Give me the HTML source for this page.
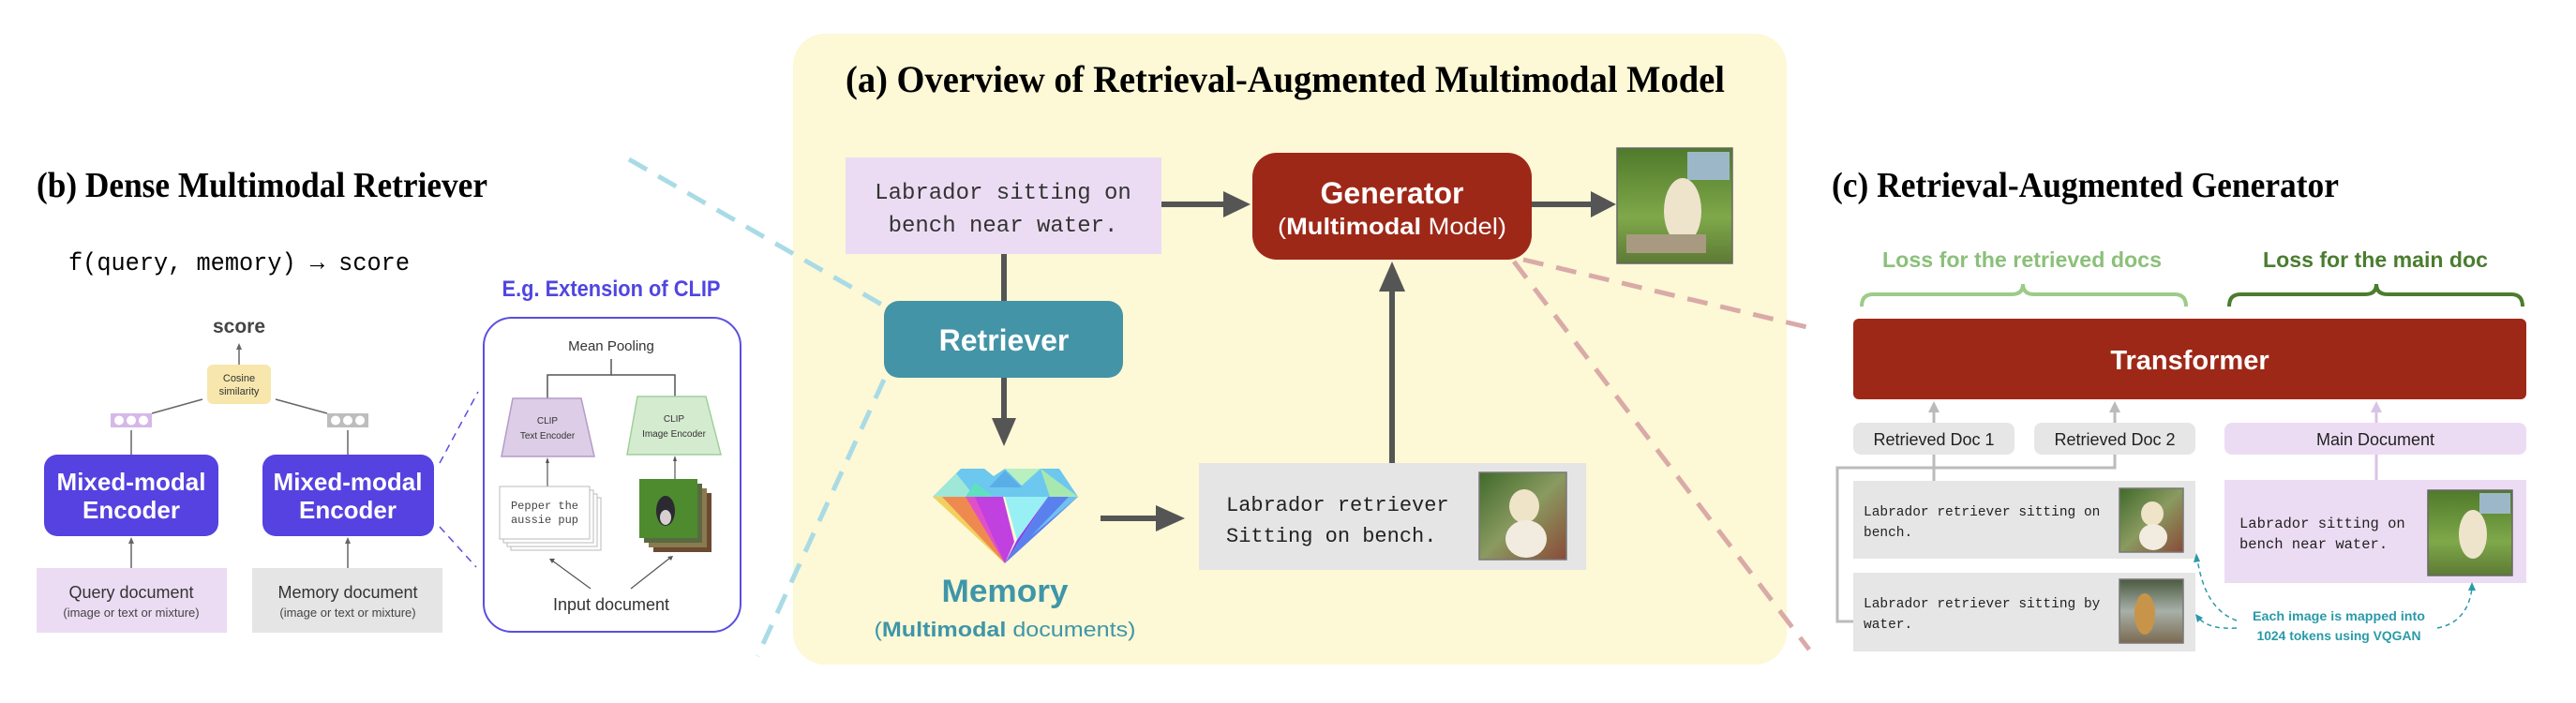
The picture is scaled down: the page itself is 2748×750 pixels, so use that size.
<!DOCTYPE html>
<html><head><meta charset="utf-8"><style>
html,body{margin:0;padding:0;background:#fff;}
svg{display:block;}
.mono{font-family:"Liberation Mono","DejaVu Sans Mono",monospace;}
.serif{font-family:"Liberation Serif",serif;font-weight:bold;}
.sans{font-family:"Liberation Sans","DejaVu Sans",sans-serif;}
</style></head><body>
<svg width="2748" height="750" viewBox="0 0 2748 750" xmlns="http://www.w3.org/2000/svg">
<defs>
<linearGradient id="g1" x1="0" y1="0" x2="0" y2="1"><stop offset="0" stop-color="#4f7a2a"/><stop offset="0.6" stop-color="#7fa84a"/><stop offset="1" stop-color="#5d7a35"/></linearGradient>
<linearGradient id="g2" x1="0" y1="0" x2="1" y2="1"><stop offset="0" stop-color="#3f6a2a"/><stop offset="0.5" stop-color="#8a9a60"/><stop offset="1" stop-color="#8a4a38"/></linearGradient>
<linearGradient id="g3" x1="0" y1="0" x2="0" y2="1"><stop offset="0" stop-color="#4a5a40"/><stop offset="0.5" stop-color="#a8b0a8"/><stop offset="1" stop-color="#7a6a50"/></linearGradient>
</defs>

<!-- Panel (a) background -->
<rect x="846" y="36" width="1060" height="673" rx="34" fill="#fdf8d5"/>

<!-- dashed connectors -->
<line x1="671" y1="170" x2="946" y2="328" stroke="#a9dbe6" stroke-width="5" stroke-dasharray="22,14"/>
<line x1="943" y1="405" x2="808" y2="700" stroke="#a9dbe6" stroke-width="5" stroke-dasharray="22,14"/>
<line x1="1625" y1="277" x2="1932" y2="350" stroke="#d9aaa8" stroke-width="5" stroke-dasharray="22,14"/>
<line x1="1615" y1="279" x2="1930" y2="693" stroke="#d9aaa8" stroke-width="5" stroke-dasharray="22,14"/>

<!-- ===== Panel (b) ===== -->
<text x="39" y="210" class="serif" font-size="38" textLength="481" lengthAdjust="spacingAndGlyphs">(b) Dense Multimodal Retriever</text>
<text x="73" y="288" class="mono" font-size="27" textLength="364" lengthAdjust="spacingAndGlyphs">f(query, memory) → score</text>
<text x="652" y="316" class="sans" font-size="24" font-weight="bold" fill="#5046e0" text-anchor="middle" textLength="233" lengthAdjust="spacingAndGlyphs">E.g. Extension of CLIP</text>

<text x="255" y="355" class="sans" font-size="21" font-weight="bold" fill="#444" text-anchor="middle">score</text>
<line x1="255" y1="389" x2="255" y2="372" stroke="#666" stroke-width="1.5"/>
<polygon points="255,366 252,373 258,373" fill="#666"/>
<rect x="221" y="389" width="68" height="42" rx="6" fill="#f7e7ad"/>
<text x="255" y="407" class="sans" font-size="11" fill="#333" text-anchor="middle">Cosine</text>
<text x="255" y="421" class="sans" font-size="11" fill="#333" text-anchor="middle">similarity</text>

<rect x="118" y="441" width="44" height="15" fill="#d5b8e8"/>
<circle cx="127" cy="448.5" r="5" fill="#fff"/><circle cx="140" cy="448.5" r="5" fill="#fff"/><circle cx="153" cy="448.5" r="5" fill="#fff"/>
<rect x="349" y="441" width="44" height="15" fill="#bdbdbd"/>
<circle cx="358" cy="448.5" r="5" fill="#fff"/><circle cx="371" cy="448.5" r="5" fill="#fff"/><circle cx="384" cy="448.5" r="5" fill="#fff"/>
<line x1="162" y1="441" x2="216" y2="426" stroke="#666" stroke-width="1.5"/>
<line x1="349" y1="441" x2="294" y2="426" stroke="#666" stroke-width="1.5"/>
<line x1="140" y1="485" x2="140" y2="459" stroke="#666" stroke-width="1.5"/>
<line x1="371" y1="485" x2="371" y2="459" stroke="#666" stroke-width="1.5"/>

<rect x="47" y="485" width="186" height="87" rx="14" fill="#5542e0"/>
<text x="140" y="523" class="sans" font-size="26" font-weight="bold" fill="#fff" text-anchor="middle">Mixed-modal</text>
<text x="140" y="553" class="sans" font-size="26" font-weight="bold" fill="#fff" text-anchor="middle">Encoder</text>
<rect x="280" y="485" width="183" height="87" rx="14" fill="#5542e0"/>
<text x="371" y="523" class="sans" font-size="26" font-weight="bold" fill="#fff" text-anchor="middle">Mixed-modal</text>
<text x="371" y="553" class="sans" font-size="26" font-weight="bold" fill="#fff" text-anchor="middle">Encoder</text>

<line x1="140" y1="606" x2="140" y2="578" stroke="#666" stroke-width="1.5"/>
<polygon points="140,573 137,580 143,580" fill="#666"/>
<line x1="371" y1="606" x2="371" y2="578" stroke="#666" stroke-width="1.5"/>
<polygon points="371,573 368,580 374,580" fill="#666"/>

<rect x="39" y="606" width="203" height="69" fill="#ecdcf3"/>
<text x="140" y="638" class="sans" font-size="18" fill="#333" text-anchor="middle">Query document</text>
<text x="140" y="658" class="sans" font-size="13" fill="#444" text-anchor="middle">(image or text or mixture)</text>
<rect x="269" y="606" width="203" height="69" fill="#e5e5e5"/>
<text x="371" y="638" class="sans" font-size="18" fill="#333" text-anchor="middle">Memory document</text>
<text x="371" y="658" class="sans" font-size="13" fill="#444" text-anchor="middle">(image or text or mixture)</text>

<line x1="469" y1="494" x2="510" y2="418" stroke="#5a4fe0" stroke-width="1.5" stroke-dasharray="8,6"/>
<line x1="469" y1="562" x2="508" y2="605" stroke="#5a4fe0" stroke-width="1.5" stroke-dasharray="8,6"/>

<rect x="516" y="339" width="274" height="335" rx="30" fill="#fff" stroke="#5a4fe0" stroke-width="2"/>
<text x="652" y="374" class="sans" font-size="15" fill="#333" text-anchor="middle">Mean Pooling</text>
<polyline points="652,383 652,400 584,400 584,425" fill="none" stroke="#555" stroke-width="1.5"/>
<polyline points="652,400 720,400 720,423" fill="none" stroke="#555" stroke-width="1.5"/>
<polygon points="547,425 620,425 634,487 535,487" fill="#ddcde6" stroke="#b49cc8" stroke-width="1.5"/>
<text x="584" y="452" class="sans" font-size="10" fill="#333" text-anchor="middle">CLIP</text>
<text x="584" y="468" class="sans" font-size="10" fill="#333" text-anchor="middle">Text Encoder</text>
<polygon points="680,423 753,423 769,485 669,485" fill="#d5ebd0" stroke="#9fd09a" stroke-width="1.5"/>
<text x="719" y="450" class="sans" font-size="10" fill="#333" text-anchor="middle">CLIP</text>
<text x="719" y="466" class="sans" font-size="10" fill="#333" text-anchor="middle">Image Encoder</text>
<line x1="584" y1="519" x2="584" y2="492" stroke="#555" stroke-width="1.2"/>
<polygon points="584,488 582,494 586,494" fill="#555"/>
<line x1="720" y1="511" x2="720" y2="490" stroke="#555" stroke-width="1.2"/>
<polygon points="720,486 718,492 722,492" fill="#555"/>
<rect x="545" y="531" width="96" height="56" fill="#fff" stroke="#bbb"/>
<rect x="541" y="527" width="96" height="56" fill="#fff" stroke="#bbb"/>
<rect x="537" y="523" width="96" height="56" fill="#fff" stroke="#bbb"/>
<rect x="533" y="519" width="96" height="56" fill="#fff" stroke="#bbb"/>
<text x="581" y="543" class="mono" font-size="12" fill="#444" text-anchor="middle">Pepper the</text>
<text x="581" y="558" class="mono" font-size="12" fill="#444" text-anchor="middle">aussie pup</text>
<rect x="697" y="526" width="62" height="63" fill="#6a4a30"/>
<rect x="692" y="521" width="62" height="63" fill="#8a7a50"/>
<rect x="687" y="516" width="62" height="63" fill="#5a6a40"/>
<rect x="682" y="511" width="62" height="63" fill="#4e8a2e"/>
<ellipse cx="710" cy="545" rx="10" ry="16" fill="#2a2a30"/>
<ellipse cx="710" cy="552" rx="6" ry="8" fill="#d8d0d0"/>
<text x="652" y="651" class="sans" font-size="18" fill="#333" text-anchor="middle">Input document</text>
<line x1="630" y1="628" x2="589" y2="598" stroke="#555" stroke-width="1.2"/>
<polygon points="586,596 592,596 589,601" fill="#555"/>
<line x1="673" y1="628" x2="715" y2="595" stroke="#555" stroke-width="1.2"/>
<polygon points="718,593 712,594 716,598" fill="#555"/>

<!-- ===== Panel (a) ===== -->
<text x="1371" y="98" class="serif" font-size="40" text-anchor="middle" textLength="938" lengthAdjust="spacingAndGlyphs">(a) Overview of Retrieval-Augmented Multimodal Model</text>

<rect x="902" y="168" width="337" height="103" fill="#ecdcf3"/>
<text x="1070" y="212" class="mono" font-size="24" fill="#333" text-anchor="middle">Labrador sitting on</text>
<text x="1070" y="247" class="mono" font-size="24" fill="#333" text-anchor="middle">bench near water.</text>

<line x1="1239" y1="218" x2="1308" y2="218" stroke="#555" stroke-width="6"/>
<polygon points="1334,218 1305,204 1305,232" fill="#555"/>
<rect x="1336" y="163" width="298" height="114" rx="26" fill="#9e2818"/>
<text x="1485" y="217" class="sans" font-size="32" font-weight="bold" fill="#fff" text-anchor="middle">Generator</text>
<text x="1485" y="250" class="sans" font-size="25" fill="#fff" text-anchor="middle" textLength="244" lengthAdjust="spacingAndGlyphs">(<tspan font-weight="bold">Multimodal</tspan> Model)</text>
<line x1="1634" y1="218" x2="1700" y2="218" stroke="#555" stroke-width="6"/>
<polygon points="1724,218 1697,204 1697,232" fill="#555"/>
<rect x="1725" y="158" width="123" height="123" fill="url(#g1)" stroke="#666" stroke-width="1.5"/>
<rect x="1800" y="162" width="45" height="30" fill="#9cb8c8"/>
<ellipse cx="1795" cy="225" rx="20" ry="35" fill="#eee4cc"/>
<rect x="1735" y="250" width="85" height="20" fill="#a89a80"/>

<line x1="1071" y1="271" x2="1071" y2="322" stroke="#555" stroke-width="6"/>
<rect x="943" y="321" width="255" height="82" rx="16" fill="#4394a6"/>
<text x="1071" y="374" class="sans" font-size="32" font-weight="bold" fill="#fff" text-anchor="middle">Retriever</text>
<line x1="1071" y1="403" x2="1071" y2="450" stroke="#555" stroke-width="6"/>
<polygon points="1071,476 1058,446 1084,446" fill="#555"/>

<!-- diamond -->
<g>
<polygon points="1025,500 1050,500 1060,508 1072,500 1130,500 1150,530 995,530" fill="#6cc8ee"/>
<polygon points="995,530 1020,505 1040,530" fill="#9fe8d8"/>
<polygon points="1072,500 1090,518 1110,500" fill="#b8f0c0"/>
<polygon points="1110,500 1150,530 1120,530" fill="#a8e8b0"/>
<polygon points="1040,515 1060,530 1030,530" fill="#60e0c0"/>
<polygon points="1072,502 1055,520 1090,520" fill="#5aaee8"/>
<polygon points="995,530 1072,601 1025,530" fill="#f2d060"/>
<polygon points="1005,530 1072,601 1045,530" fill="#ee8a50"/>
<polygon points="1030,530 1072,601 1065,530" fill="#e050c8"/>
<polygon points="1040,530 1072,601 1082,578 1070,530" fill="#c040e0"/>
<polygon points="1072,530 1118,530 1085,576" fill="#98f0f4"/>
<polygon points="1118,530 1072,601 1085,576" fill="#8a40e8"/>
<polygon points="1118,530 1150,530 1072,601" fill="#5a80ee"/>
<polygon points="1140,530 1150,530 1100,572" fill="#70c0f0"/>
</g>
<text x="1072" y="642" class="sans" font-size="34" font-weight="bold" fill="#3e96a8" text-anchor="middle" textLength="135" lengthAdjust="spacingAndGlyphs">Memory</text>
<text x="1072" y="679" class="sans" font-size="22" fill="#3e96a8" text-anchor="middle" textLength="279" lengthAdjust="spacingAndGlyphs">(<tspan font-weight="bold">Multimodal</tspan> documents)</text>

<line x1="1174" y1="553" x2="1237" y2="553" stroke="#555" stroke-width="6"/>
<polygon points="1264,553 1233,539 1233,567" fill="#555"/>
<rect x="1279" y="494" width="413" height="114" fill="#e6e5e5"/>
<text x="1308" y="545" class="mono" font-size="22" fill="#222">Labrador retriever</text>
<text x="1308" y="578" class="mono" font-size="22" fill="#222">Sitting on bench.</text>
<rect x="1578" y="504" width="93" height="93" fill="url(#g2)" stroke="#777" stroke-width="1.5"/>
<ellipse cx="1626" cy="540" rx="16" ry="18" fill="#efe4c8"/>
<ellipse cx="1628" cy="575" rx="22" ry="20" fill="#f2ece0"/>
<line x1="1485" y1="494" x2="1485" y2="308" stroke="#555" stroke-width="6"/>
<polygon points="1485,279 1471,311 1499,311" fill="#555"/>

<!-- ===== Panel (c) ===== -->
<text x="1954" y="210" class="serif" font-size="38" textLength="541" lengthAdjust="spacingAndGlyphs">(c) Retrieval-Augmented Generator</text>
<text x="2157" y="285" class="sans" font-size="23" font-weight="bold" fill="#8bc07a" text-anchor="middle" textLength="298" lengthAdjust="spacingAndGlyphs">Loss for the retrieved docs</text>
<text x="2534" y="285" class="sans" font-size="23" font-weight="bold" fill="#4a7d2f" text-anchor="middle" textLength="240" lengthAdjust="spacingAndGlyphs">Loss for the main doc</text>
<path d="M1986,327 Q1986,314 1998,314 L2146,314 Q2158,314 2158,303 Q2158,314 2170,314 L2320,314 Q2332,314 2332,327" fill="none" stroke="#9ccb8a" stroke-width="4"/>
<path d="M2378,327 Q2378,314 2390,314 L2523,314 Q2535,314 2535,303 Q2535,314 2547,314 L2679,314 Q2691,314 2691,327" fill="none" stroke="#4a7d2f" stroke-width="4"/>

<rect x="1977" y="340" width="718" height="86" rx="6" fill="#9e2818"/>
<text x="2336" y="394" class="sans" font-size="29" font-weight="bold" fill="#fff" text-anchor="middle">Transformer</text>

<line x1="2063" y1="451" x2="2063" y2="437" stroke="#bbb" stroke-width="3"/>
<polygon points="2063,428 2057,440 2069,440" fill="#bbb"/>
<line x1="2256" y1="451" x2="2256" y2="437" stroke="#bbb" stroke-width="3"/>
<polygon points="2256,428 2250,440 2262,440" fill="#bbb"/>
<line x1="2535" y1="451" x2="2535" y2="437" stroke="#d9c3e6" stroke-width="3"/>
<polygon points="2535,428 2529,440 2541,440" fill="#d9c3e6"/>

<rect x="1977" y="451" width="172" height="34" rx="8" fill="#e6e6e6"/>
<text x="2063" y="475" class="sans" font-size="18" fill="#222" text-anchor="middle">Retrieved Doc 1</text>
<rect x="2170" y="451" width="172" height="34" rx="8" fill="#e6e6e6"/>
<text x="2256" y="475" class="sans" font-size="18" fill="#222" text-anchor="middle">Retrieved Doc 2</text>
<rect x="2373" y="451" width="322" height="34" rx="8" fill="#ecdcf3"/>
<text x="2534" y="475" class="sans" font-size="18" fill="#222" text-anchor="middle">Main Document</text>

<line x1="2063" y1="485" x2="2063" y2="513" stroke="#bbb" stroke-width="3"/>
<polyline points="2256,485 2256,499 1960,499 1960,663 1977,663" fill="none" stroke="#bbb" stroke-width="3"/>
<line x1="2535" y1="485" x2="2535" y2="512" stroke="#d9c3e6" stroke-width="3"/>

<rect x="1977" y="513" width="365" height="83" fill="#e6e6e6"/>
<text x="1988" y="550" class="mono" font-size="14.5" fill="#222">Labrador retriever sitting on</text>
<text x="1988" y="572" class="mono" font-size="14.5" fill="#222">bench.</text>
<rect x="2261" y="521" width="68" height="68" fill="url(#g2)" stroke="#777" stroke-width="1.5"/>
<ellipse cx="2296" cy="548" rx="12" ry="13" fill="#efe4c8"/>
<ellipse cx="2297" cy="573" rx="15" ry="14" fill="#f2ece0"/>

<rect x="1977" y="611" width="365" height="84" fill="#e6e6e6"/>
<text x="1988" y="648" class="mono" font-size="14.5" fill="#222">Labrador retriever sitting by</text>
<text x="1988" y="670" class="mono" font-size="14.5" fill="#222">water.</text>
<rect x="2261" y="618" width="68" height="68" fill="url(#g3)" stroke="#777" stroke-width="1.5"/>
<ellipse cx="2288" cy="655" rx="11" ry="22" fill="#c8944a"/>

<rect x="2373" y="512" width="322" height="110" fill="#ecdcf3"/>
<text x="2389" y="563" class="mono" font-size="15.5" fill="#222">Labrador sitting on</text>
<text x="2389" y="585" class="mono" font-size="15.5" fill="#222">bench near water.</text>
<rect x="2590" y="523" width="90" height="91" fill="url(#g1)" stroke="#666" stroke-width="1.5"/>
<rect x="2645" y="526" width="33" height="22" fill="#9cb8c8"/>
<ellipse cx="2638" cy="570" rx="15" ry="26" fill="#eee4cc"/>

<text x="2495" y="662" class="sans" font-size="14" font-weight="bold" fill="#2a9aa8" text-anchor="middle" textLength="184" lengthAdjust="spacingAndGlyphs">Each image is mapped into</text>
<text x="2495" y="683" class="sans" font-size="14" font-weight="bold" fill="#2a9aa8" text-anchor="middle" textLength="175" lengthAdjust="spacingAndGlyphs">1024 tokens using VQGAN</text>
<path d="M2386,662 Q2352,650 2344,596" fill="none" stroke="#2a9aa8" stroke-width="1.5" stroke-dasharray="5,4"/>
<polygon points="2343,590 2340,600 2347,599" fill="#2a9aa8"/>
<path d="M2386,670 Q2358,672 2346,660" fill="none" stroke="#2a9aa8" stroke-width="1.5" stroke-dasharray="5,4"/>
<polygon points="2342,655 2344,664 2350,659" fill="#2a9aa8"/>
<path d="M2600,670 Q2632,664 2637,628" fill="none" stroke="#2a9aa8" stroke-width="1.5" stroke-dasharray="5,4"/>
<polygon points="2637,621 2633,630 2641,630" fill="#2a9aa8"/>
</svg>
</body></html>
